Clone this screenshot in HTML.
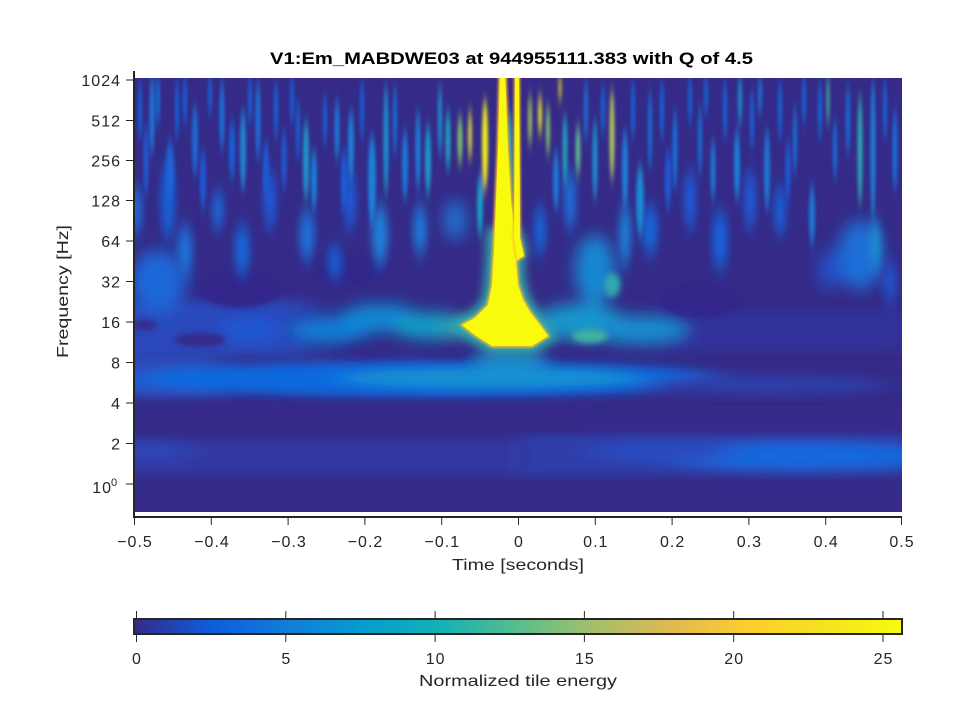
<!DOCTYPE html>
<html><head><meta charset="utf-8"><style>
html,body{margin:0;padding:0;background:#fff;}
svg{display:block;font-family:"Liberation Sans",sans-serif;}
</style></head><body>
<svg width="960" height="720" viewBox="0 0 960 720" xmlns="http://www.w3.org/2000/svg">
<defs>
<clipPath id="c"><rect x="134" y="78" width="768" height="434"/></clipPath>
<filter id="bH" filterUnits="userSpaceOnUse" x="0" y="0" width="960" height="720"><feGaussianBlur stdDeviation="16 5"/></filter>
<filter id="b8" filterUnits="userSpaceOnUse" x="0" y="0" width="960" height="720"><feGaussianBlur stdDeviation="8"/></filter>
<filter id="b5" filterUnits="userSpaceOnUse" x="0" y="0" width="960" height="720"><feGaussianBlur stdDeviation="5"/></filter>
<filter id="b3" filterUnits="userSpaceOnUse" x="0" y="0" width="960" height="720"><feGaussianBlur stdDeviation="3"/></filter>
<filter id="b1" filterUnits="userSpaceOnUse" x="0" y="0" width="960" height="720"><feGaussianBlur stdDeviation="1.2"/></filter>
<filter id="bS" filterUnits="userSpaceOnUse" x="0" y="0" width="960" height="720"><feGaussianBlur stdDeviation="1.5 7"/></filter>
<filter id="bL" filterUnits="userSpaceOnUse" x="0" y="0" width="960" height="720"><feGaussianBlur stdDeviation="4 9"/></filter>
<linearGradient id="par" x1="0" y1="0" x2="1" y2="0">
<stop offset="0" stop-color="#352a87"/>
<stop offset="0.1" stop-color="#0f5cdd"/>
<stop offset="0.2" stop-color="#127dd8"/>
<stop offset="0.3" stop-color="#079ccf"/>
<stop offset="0.4" stop-color="#15b1b4"/>
<stop offset="0.5" stop-color="#59bd8c"/>
<stop offset="0.6" stop-color="#a5be6b"/>
<stop offset="0.7" stop-color="#e1b952"/>
<stop offset="0.8" stop-color="#fcce2e"/>
<stop offset="0.9" stop-color="#f5e31e"/>
<stop offset="1" stop-color="#f9fb0e"/>
</linearGradient>
</defs>

<!-- spectrogram -->
<g clip-path="url(#c)">
<rect x="134" y="78" width="768" height="434" fill="#352a87"/>

<!-- low-frequency bands -->
<g filter="url(#bH)">
  <rect x="110" y="440" width="420" height="36" fill="#3237a2"/>
  <ellipse cx="150" cy="450" rx="40" ry="12" fill="#2d44b4"/>
  <rect x="520" y="432" width="400" height="44" fill="#2f3ea8"/>
  <ellipse cx="800" cy="456" rx="150" ry="14" fill="#1866dc"/>
  <ellipse cx="660" cy="452" rx="70" ry="10" fill="#2a4cc0"/>
  <rect x="110" y="358" width="110" height="40" fill="#2a50c0"/>
  <ellipse cx="430" cy="379" rx="300" ry="18" fill="#0f68de"/>
  <ellipse cx="490" cy="378" rx="150" ry="10" fill="#1390d2"/>
  <ellipse cx="770" cy="385" rx="120" ry="10" fill="#2f3ea8"/>
  <rect x="110" y="300" width="200" height="56" fill="#2b48bc"/>
  <rect x="660" y="310" width="260" height="40" fill="#33309a"/>
</g>
<g filter="url(#b3)">
  <rect x="110" y="486" width="820" height="40" fill="#34298a"/>
  <rect x="110" y="403" width="480" height="30" fill="#34298a"/>
  <rect x="590" y="410" width="330" height="22" fill="#34298c"/>
</g>

<!-- mid region blobs -->
<g filter="url(#b8)">
  <ellipse cx="158" cy="282" rx="28" ry="32" fill="#1a68d8"/>
  <ellipse cx="330" cy="330" rx="40" ry="13" fill="#0b80d8"/>
  <ellipse cx="380" cy="318" rx="40" ry="14" fill="#0c8ad4"/>
  <ellipse cx="430" cy="326" rx="38" ry="13" fill="#10a0c8"/>
  <ellipse cx="458" cy="328" rx="22" ry="9" fill="#2aacb4"/>
  <ellipse cx="580" cy="322" rx="45" ry="18" fill="#1298cc"/>
  <ellipse cx="640" cy="330" rx="50" ry="14" fill="#1590d0"/>
  <ellipse cx="595" cy="270" rx="20" ry="35" fill="#1488d2"/>
  <ellipse cx="510" cy="362" rx="40" ry="10" fill="#1a98cc"/>
  <ellipse cx="860" cy="255" rx="22" ry="35" fill="#1a6ed8"/>
  <ellipse cx="830" cy="270" rx="12" ry="20" fill="#2050c8"/>
  <ellipse cx="455" cy="220" rx="10" ry="20" fill="#1a78d8"/>
  <ellipse cx="250" cy="330" rx="30" ry="10" fill="#1a5cd8"/>
</g>
<g filter="url(#b3)">
  <ellipse cx="590" cy="336" rx="18" ry="7" fill="#40b0a0"/>
  <ellipse cx="612" cy="285" rx="8" ry="12" fill="#30a8b0"/>
  <ellipse cx="370" cy="352" rx="26" ry="5" fill="#34298a"/>
  <ellipse cx="448" cy="353" rx="20" ry="4" fill="#34298a"/>
  <ellipse cx="568" cy="352" rx="18" ry="4" fill="#34298a"/>
  <ellipse cx="200" cy="340" rx="26" ry="7" fill="#34298a"/>
  <ellipse cx="145" cy="325" rx="12" ry="5" fill="#34298a"/>
  <ellipse cx="240" cy="290" rx="40" ry="18" fill="#33288a"/>
  <ellipse cx="350" cy="270" rx="40" ry="14" fill="#33288a"/>
  <ellipse cx="700" cy="300" rx="40" ry="18" fill="#33288a"/>
</g>

<!-- lower broad streaks -->
<g filter="url(#bL)">
  <ellipse cx="136" cy="210" rx="6" ry="25" fill="#1a6ed8"/>
  <ellipse cx="168" cy="200" rx="7" ry="40" fill="#1560d8"/>
  <ellipse cx="185" cy="250" rx="8" ry="25" fill="#1a70d8"/>
  <ellipse cx="218" cy="210" rx="6" ry="20" fill="#1a68d8"/>
  <ellipse cx="242" cy="250" rx="8" ry="25" fill="#1565d8"/>
  <ellipse cx="270" cy="200" rx="6" ry="30" fill="#1a5cd8"/>
  <ellipse cx="307" cy="235" rx="8" ry="25" fill="#1a70d8"/>
  <ellipse cx="335" cy="262" rx="8" ry="15" fill="#1560d8"/>
  <ellipse cx="350" cy="200" rx="6" ry="30" fill="#1a5cd8"/>
  <ellipse cx="380" cy="235" rx="8" ry="30" fill="#1a80d8"/>
  <ellipse cx="420" cy="230" rx="7" ry="25" fill="#1a78d8"/>
  <ellipse cx="540" cy="230" rx="6" ry="25" fill="#1565d8"/>
  <ellipse cx="570" cy="200" rx="6" ry="30" fill="#1a70d8"/>
  <ellipse cx="625" cy="235" rx="6" ry="30" fill="#1a80d8"/>
  <ellipse cx="650" cy="230" rx="8" ry="25" fill="#1565d8"/>
  <ellipse cx="690" cy="200" rx="6" ry="30" fill="#1a5cd8"/>
  <ellipse cx="720" cy="240" rx="8" ry="30" fill="#1560d8"/>
  <ellipse cx="750" cy="200" rx="6" ry="30" fill="#1a5cd8"/>
  <ellipse cx="780" cy="210" rx="6" ry="25" fill="#1560d8"/>
  <ellipse cx="875" cy="245" rx="6" ry="25" fill="#1a8cd0"/>
  <ellipse cx="890" cy="282" rx="8" ry="20" fill="#2050c8"/>
</g>

<!-- high-frequency streaks -->
<g filter="url(#bS)">
  <ellipse cx="140" cy="110" rx="2" ry="30" fill="#1560d8"/>
  <ellipse cx="146" cy="160" rx="2.5" ry="35" fill="#1a5cd8"/>
  <ellipse cx="152" cy="115" rx="2.5" ry="40" fill="#1a78d8"/>
  <ellipse cx="158" cy="100" rx="2" ry="25" fill="#1570d8"/>
  <ellipse cx="170" cy="170" rx="4" ry="30" fill="#1a64d8"/>
  <ellipse cx="177" cy="110" rx="2" ry="30" fill="#1560d8"/>
  <ellipse cx="185" cy="100" rx="2" ry="25" fill="#1560d8"/>
  <ellipse cx="195" cy="140" rx="3" ry="35" fill="#1a6cd8"/>
  <ellipse cx="203" cy="180" rx="3" ry="30" fill="#1a5cd8"/>
  <ellipse cx="210" cy="95" rx="2" ry="20" fill="#1560d8"/>
  <ellipse cx="222" cy="115" rx="2.5" ry="35" fill="#1a70d8"/>
  <ellipse cx="232" cy="150" rx="3" ry="30" fill="#1560d8"/>
  <ellipse cx="243" cy="150" rx="3" ry="40" fill="#1a88d4"/>
  <ellipse cx="250" cy="100" rx="2" ry="25" fill="#1560d8"/>
  <ellipse cx="258" cy="120" rx="2.5" ry="40" fill="#1a70d8"/>
  <ellipse cx="266" cy="170" rx="3" ry="30" fill="#1a5cd8"/>
  <ellipse cx="276" cy="110" rx="2" ry="30" fill="#1565d8"/>
  <ellipse cx="284" cy="160" rx="2.5" ry="30" fill="#1a5cd8"/>
  <ellipse cx="292" cy="100" rx="2" ry="25" fill="#1560d8"/>
  <ellipse cx="298" cy="130" rx="2" ry="30" fill="#1560d8"/>
  <ellipse cx="306" cy="160" rx="3" ry="40" fill="#1a98cc"/>
  <ellipse cx="314" cy="180" rx="3" ry="30" fill="#1580d8"/>
  <ellipse cx="325" cy="120" rx="2" ry="25" fill="#1560d8"/>
  <ellipse cx="337" cy="130" rx="2.5" ry="30" fill="#1a78d8"/>
  <ellipse cx="344" cy="180" rx="3" ry="30" fill="#1a5cd8"/>
  <ellipse cx="351" cy="145" rx="3" ry="35" fill="#1a80d8"/>
  <ellipse cx="362" cy="110" rx="2" ry="30" fill="#1560d8"/>
  <ellipse cx="372" cy="180" rx="4" ry="45" fill="#1a80d8"/>
  <ellipse cx="386" cy="140" rx="2.5" ry="55" fill="#1a90d0"/>
  <ellipse cx="395" cy="120" rx="2" ry="35" fill="#1570d8"/>
  <ellipse cx="405" cy="165" rx="3" ry="35" fill="#1a78d8"/>
  <ellipse cx="418" cy="150" rx="2.5" ry="40" fill="#1a80d8"/>
  <ellipse cx="428" cy="160" rx="3" ry="35" fill="#1a98cc"/>
  <ellipse cx="440" cy="120" rx="2" ry="35" fill="#1a90d0"/>
  <ellipse cx="448" cy="140" rx="2.5" ry="30" fill="#20a0c0"/>
  <ellipse cx="460" cy="140" rx="2.5" ry="25" fill="#80c070"/>
  <ellipse cx="470" cy="135" rx="2" ry="25" fill="#d8d040"/>
  <ellipse cx="480" cy="205" rx="3" ry="30" fill="#18a0c8"/>
  <ellipse cx="485" cy="145" rx="3" ry="45" fill="#f0f020"/>
  <ellipse cx="510" cy="170" rx="3" ry="60" fill="#18a0c8"/>
  <ellipse cx="530" cy="120" rx="2" ry="25" fill="#a0c060"/>
  <ellipse cx="540" cy="115" rx="2" ry="20" fill="#e8e030"/>
  <ellipse cx="548" cy="130" rx="2" ry="25" fill="#80c070"/>
  <ellipse cx="556" cy="180" rx="3" ry="30" fill="#1a78d8"/>
  <ellipse cx="560" cy="88" rx="1.5" ry="12" fill="#f0e020"/>
  <ellipse cx="565" cy="150" rx="2.5" ry="35" fill="#20a0c0"/>
  <ellipse cx="578" cy="150" rx="2.5" ry="25" fill="#60b890"/>
  <ellipse cx="586" cy="110" rx="2" ry="30" fill="#1a70d8"/>
  <ellipse cx="595" cy="160" rx="2.5" ry="40" fill="#1a90d0"/>
  <ellipse cx="603" cy="110" rx="2" ry="25" fill="#1565d8"/>
  <ellipse cx="612" cy="135" rx="2.5" ry="45" fill="#b0c860"/>
  <ellipse cx="625" cy="170" rx="3" ry="40" fill="#1a80d8"/>
  <ellipse cx="633" cy="110" rx="2" ry="30" fill="#1565d8"/>
  <ellipse cx="640" cy="200" rx="4" ry="35" fill="#1a88d4"/>
  <ellipse cx="650" cy="130" rx="2" ry="40" fill="#1570d8"/>
  <ellipse cx="662" cy="110" rx="2" ry="30" fill="#1565d8"/>
  <ellipse cx="668" cy="180" rx="3" ry="30" fill="#1a5cd8"/>
  <ellipse cx="675" cy="150" rx="2.5" ry="40" fill="#1570d8"/>
  <ellipse cx="690" cy="100" rx="2" ry="25" fill="#1560d8"/>
  <ellipse cx="700" cy="140" rx="2" ry="35" fill="#1570d8"/>
  <ellipse cx="706" cy="95" rx="2" ry="20" fill="#1565d8"/>
  <ellipse cx="713" cy="170" rx="2.5" ry="30" fill="#1a78d8"/>
  <ellipse cx="725" cy="110" rx="2" ry="30" fill="#1565d8"/>
  <ellipse cx="737" cy="165" rx="3" ry="35" fill="#1a80d8"/>
  <ellipse cx="740" cy="100" rx="2" ry="25" fill="#1a90d0"/>
  <ellipse cx="752" cy="120" rx="2" ry="30" fill="#1565d8"/>
  <ellipse cx="760" cy="95" rx="2" ry="20" fill="#1a70d8"/>
  <ellipse cx="767" cy="170" rx="3" ry="40" fill="#1a78d8"/>
  <ellipse cx="780" cy="110" rx="2" ry="30" fill="#1565d8"/>
  <ellipse cx="788" cy="170" rx="2.5" ry="30" fill="#1a5cd8"/>
  <ellipse cx="795" cy="140" rx="2" ry="35" fill="#1570d8"/>
  <ellipse cx="804" cy="100" rx="2" ry="25" fill="#1565d8"/>
  <ellipse cx="812" cy="215" rx="3" ry="30" fill="#1a78d8"/>
  <ellipse cx="820" cy="110" rx="2" ry="30" fill="#1565d8"/>
  <ellipse cx="828" cy="100" rx="1.5" ry="25" fill="#40b0a0"/>
  <ellipse cx="835" cy="150" rx="2" ry="30" fill="#1570d8"/>
  <ellipse cx="848" cy="120" rx="2" ry="35" fill="#1570d8"/>
  <ellipse cx="860" cy="150" rx="2.5" ry="55" fill="#2aa8b0"/>
  <ellipse cx="873" cy="150" rx="2.5" ry="70" fill="#1a80d8"/>
  <ellipse cx="885" cy="110" rx="2" ry="30" fill="#1565d8"/>
  <ellipse cx="895" cy="150" rx="2.5" ry="40" fill="#1570d8"/>
</g>

<!-- central yellow event -->
<path d="M494,235 L515,235 L520,250 L516,262 L518,285 L523,300 L530,312 L540,325 L548,336 L532,346 L492,346 L475,335 L462,325 L475,318 L488,305 L492,285 L494,250 Z" fill="#30b0a8" stroke="#30b0a8" stroke-width="14" filter="url(#b5)"/>
<path d="M500,70 L505,70 L508,150 L511,200 L515,235 L520,250 L516,262 L518,285 L523,300 L530,312 L540,325 L548,336 L532,346 L492,346 L475,335 L462,325 L475,318 L488,305 L492,285 L494,250 L496,200 L498,150 Z" fill="#fdb52c" stroke="#fdb52c" stroke-width="3" filter="url(#b1)"/>
<path d="M500,70 L505,70 L508,150 L511,200 L515,235 L520,250 L516,262 L518,285 L523,300 L530,312 L540,325 L548,336 L532,346 L492,346 L475,335 L462,325 L475,318 L488,305 L492,285 L494,250 L496,200 L498,150 Z" fill="#f9fb0e"/>
<path d="M515,70 L519,70 L520,238 L524,256 L517,260 L514,238 Z" fill="#fdb52c" stroke="#fdb52c" stroke-width="2" filter="url(#b1)"/>
<path d="M515,70 L519,70 L520,238 L524,256 L517,260 L514,238 Z" fill="#f9fb0e"/>
</g>

<!-- axes -->
<g stroke="#262626" fill="none">
  <line x1="134" y1="71" x2="134" y2="518" stroke-width="2"/>
  <line x1="133" y1="517" x2="902" y2="517" stroke-width="2"/>
  <g stroke-width="1">
    <line x1="126" y1="80" x2="134" y2="80"/>
    <line x1="126" y1="120.5" x2="134" y2="120.5"/>
    <line x1="126" y1="160.5" x2="134" y2="160.5"/>
    <line x1="126" y1="200.5" x2="134" y2="200.5"/>
    <line x1="126" y1="241" x2="134" y2="241"/>
    <line x1="126" y1="281.5" x2="134" y2="281.5"/>
    <line x1="126" y1="322" x2="134" y2="322"/>
    <line x1="126" y1="362.5" x2="134" y2="362.5"/>
    <line x1="126" y1="403" x2="134" y2="403"/>
    <line x1="126" y1="443.5" x2="134" y2="443.5"/>
    <line x1="126" y1="484" x2="134" y2="484"/>
    <line x1="134.5" y1="517" x2="134.5" y2="525"/>
    <line x1="211.3" y1="517" x2="211.3" y2="525"/>
    <line x1="288.1" y1="517" x2="288.1" y2="525"/>
    <line x1="364.9" y1="517" x2="364.9" y2="525"/>
    <line x1="441.7" y1="517" x2="441.7" y2="525"/>
    <line x1="518.5" y1="517" x2="518.5" y2="525"/>
    <line x1="595.3" y1="517" x2="595.3" y2="525"/>
    <line x1="672.1" y1="517" x2="672.1" y2="525"/>
    <line x1="748.9" y1="517" x2="748.9" y2="525"/>
    <line x1="825.7" y1="517" x2="825.7" y2="525"/>
    <line x1="901.5" y1="517" x2="901.5" y2="525"/>
  </g>
</g>

<g fill="#262626" font-size="16" letter-spacing="1" text-anchor="end">
  <text x="121" y="86">1024</text>
  <text x="121" y="126.5">512</text>
  <text x="121" y="166.5">256</text>
  <text x="121" y="206.5">128</text>
  <text x="121" y="247">64</text>
  <text x="121" y="287.5">32</text>
  <text x="121" y="328">16</text>
  <text x="121" y="368.5">8</text>
  <text x="121" y="409">4</text>
  <text x="121" y="449.5">2</text>
  <text x="112" y="493">10</text>
</g>
<text x="111" y="486" font-size="11" fill="#262626">0</text>
<g fill="#262626" font-size="16" letter-spacing="1" text-anchor="middle">
  <text x="135" y="547">−0.5</text>
  <text x="212" y="547">−0.4</text>
  <text x="289" y="547">−0.3</text>
  <text x="365.5" y="547">−0.2</text>
  <text x="442.3" y="547">−0.1</text>
  <text x="519" y="547">0</text>
  <text x="595.8" y="547">0.1</text>
  <text x="672.6" y="547">0.2</text>
  <text x="749.4" y="547">0.3</text>
  <text x="826.2" y="547">0.4</text>
  <text x="902" y="547">0.5</text>
</g>
<g fill="#262626" font-size="16">
  <text x="452" y="570" textLength="132" lengthAdjust="spacingAndGlyphs">Time [seconds]</text>
  <text transform="translate(68,358) rotate(-90)" textLength="133" lengthAdjust="spacingAndGlyphs">Frequency [Hz]</text>
</g>
<text x="270" y="64" font-size="16.5" font-weight="bold" fill="#000" textLength="483" lengthAdjust="spacingAndGlyphs">V1:Em_MABDWE03 at 944955111.383 with Q of 4.5</text>

<!-- colorbar -->
<rect x="134" y="619" width="768" height="15" fill="url(#par)" stroke="#262626" stroke-width="2"/>
<g stroke="#262626" stroke-width="1">
  <line x1="136.5" y1="611" x2="136.5" y2="619"/><line x1="136.5" y1="634" x2="136.5" y2="642"/>
  <line x1="285.8" y1="611" x2="285.8" y2="619"/><line x1="285.8" y1="634" x2="285.8" y2="642"/>
  <line x1="435.1" y1="611" x2="435.1" y2="619"/><line x1="435.1" y1="634" x2="435.1" y2="642"/>
  <line x1="584.4" y1="611" x2="584.4" y2="619"/><line x1="584.4" y1="634" x2="584.4" y2="642"/>
  <line x1="733.7" y1="611" x2="733.7" y2="619"/><line x1="733.7" y1="634" x2="733.7" y2="642"/>
  <line x1="883" y1="611" x2="883" y2="619"/><line x1="883" y1="634" x2="883" y2="642"/>
</g>
<g fill="#262626" font-size="16" letter-spacing="1" text-anchor="middle">
  <text x="137" y="664">0</text>
  <text x="286.3" y="664">5</text>
  <text x="435.6" y="664">10</text>
  <text x="584.9" y="664">15</text>
  <text x="734.2" y="664">20</text>
  <text x="883.5" y="664">25</text>
</g>
<text x="419" y="686" font-size="16" fill="#262626" textLength="198" lengthAdjust="spacingAndGlyphs">Normalized tile energy</text>
</svg>
</body></html>
